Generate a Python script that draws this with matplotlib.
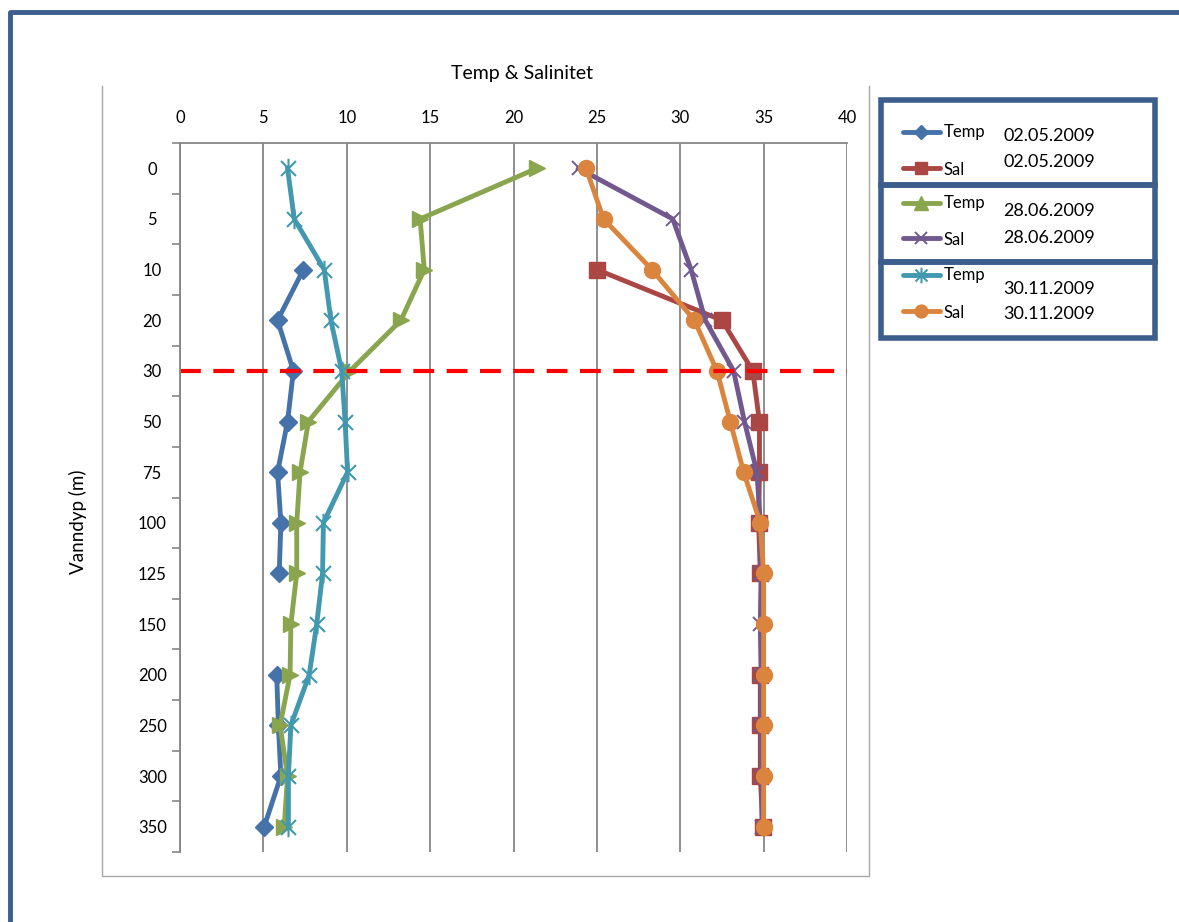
import numpy as np
import matplotlib.pyplot as plt
from matplotlib.path import Path
from matplotlib.patches import Rectangle

plt.rcParams['font.family'] = ['Lato', 'DejaVu Sans']

# Dybder (kategoriakse) og måleserier
dyp = ["0", "5", "10", "20", "30", "50", "75", "100", "125", "150", "200", "250", "300", "350"]
nan = np.nan
temp_0205 = [nan, nan, 7.4, 5.85, 6.8, 6.45, 5.85, 6.05, 5.95, nan, 5.8, 5.9, 6.05, 5.05]
sal_0205 = [nan, nan, 25.0, 32.5, 34.35, 34.75, 34.75, 34.7, 34.8, nan, 34.8, 34.8, 34.8, 34.95]
temp_2806 = [21.4, 14.4, 14.65, 13.25, 10.2, 7.7, 7.2, 7.0, 7.0, 6.65, 6.6, 6.0, 6.45, 6.25]
sal_2806 = [23.9, 29.55, 30.65, 31.5, 33.2, 33.85, 34.6, 34.8, 34.85, 34.8, 34.85, 34.85, 34.9, 34.9]
temp_3011 = [6.45, 6.85, 8.65, 9.05, 9.7, 9.9, 10.05, 8.6, 8.55, 8.2, 7.75, 6.65, 6.5, 6.5]
sal_3011 = [24.35, 25.4, 28.3, 30.85, 32.2, 33.0, 33.8, 34.8, 35.0, 35.0, 35.0, 35.0, 35.0, 35.0]
grense_dyp = "30"

# Stjernemarkør: kryss + loddrett strek
stjerne = Path([(-1, -1), (1, 1), (-1, 1), (1, -1), (0, -1.3), (0, 1.3)],
               [Path.MOVETO, Path.LINETO, Path.MOVETO, Path.LINETO, Path.MOVETO, Path.LINETO])

serier = [
    ("Temp", "02.05.2009", temp_0205, dict(color="#4672AA", marker="D", ms=9)),
    ("Sal", "02.05.2009", sal_0205, dict(color="#AA4643", marker="s", ms=11.5)),
    ("Temp", "28.06.2009", temp_2806, dict(color="#89A54E", marker=">", ms=12)),
    ("Sal", "28.06.2009", sal_2806, dict(color="#71588F", marker="x", ms=10, mew=1.4)),
    ("Temp", "30.11.2009", temp_3011, dict(color="#4198AF", marker=stjerne, ms=14, mew=1.5, mfc="none")),
    ("Sal", "30.11.2009", sal_3011, dict(color="#DB843D", marker="o", ms=11.5)),
]

fig = plt.figure(figsize=(11.79, 9.22), dpi=100)
W, H = 1179, 922

# Bakgrunnslag i pikselkoordinater for ramme og tegnforklaring
bg = fig.add_axes([0, 0, 1, 1])
bg.set_xlim(0, W)
bg.set_ylim(H, 0)
bg.axis("off")

ramme = "#3B5E8C"
bg.plot([10, 10, W], [H, 12, 12], color=ramme, lw=3.5, solid_capstyle="butt")
bg.plot([102, 102, 869, 869], [86, 876, 876, 86], color="#A6A6A6", lw=1)

ax = fig.add_axes([180 / W, 1 - 852 / H, 667 / W, 709 / H])
y = np.arange(len(dyp))

for navn, dato, verdier, stil in serier:
    ax.plot(verdier, y, lw=3.5, **stil)

ax.axhline(dyp.index(grense_dyp), color="#FF0000", lw=3, dashes=(5, 3))

ax.set_xlim(0, 40)
ax.set_ylim(len(dyp) - 0.5, -0.5)
ax.xaxis.tick_top()
ax.set_xticks(range(0, 41, 5))
ax.set_yticks(np.arange(-0.5, len(dyp), 1), minor=True)
ax.tick_params(axis="y", which="minor", length=6, color="#868686", width=1.2)
ax.tick_params(axis="y", which="major", length=0, pad=20, labelsize=12)
ax.tick_params(axis="x", length=0, pad=12, labelsize=12)
ax.set_yticks(y)
ax.set_yticklabels(dyp, ha="center")
ax.grid(axis="x", color="#868686", lw=1.3)
for s in ["right", "bottom"]:
    ax.spines[s].set_visible(False)
for s in ["left", "top"]:
    ax.spines[s].set_color("#868686")
    ax.spines[s].set_linewidth(1.3)
ax.set_axisbelow(True)

fig.text(522 / W, 1 - 73 / H, "Temp & Salinitet", ha="center", va="center", fontsize=14)
fig.text(78 / W, 1 - 522 / H, "Vanndyp (m)", ha="center", va="center", rotation=90, fontsize=13.5)

# Tegnforklaring: tre bokser, én per tokt
bokser = [(100, 185), (185, 262), (262, 338)]
for top, bunn in bokser:
    bg.add_patch(Rectangle((881, top), 274, bunn - top, fill=False, ec=ramme, lw=4))

rader = [(132, 136), (168, 162), (203, 211), (238, 238), (275, 289), (311, 314)]
for (navn, dato, _, stil), (ly, dy) in zip(serier, rader):
    s = dict(stil)
    s["ms"] = s["ms"] * 0.8
    if s["marker"] == ">":
        s["marker"] = "^"
    bg.plot([903, 940], [ly, ly], lw=3.5, color=s["color"], solid_capstyle="round")
    bg.plot([921], [ly], lw=0, **s)
    bg.text(944, ly + (2 if navn == "Sal" else 0), navn, fontsize=12, va="center")
    bg.text(1003, dy, dato, fontsize=13, va="center")

fig.savefig("out.png", dpi=100)
